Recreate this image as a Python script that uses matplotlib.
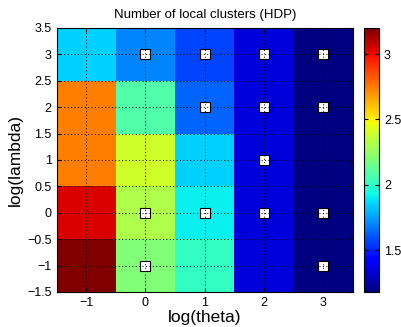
import matplotlib
matplotlib.use('Agg')
import numpy as np
import matplotlib.pyplot as plt

# log(theta) columns, log(lambda) rows
log_theta = [-1, 0, 1, 2, 3]
log_lambda = [-1, 0, 1, 2, 3]

# number of local clusters, one row per log(lambda) value
clusters_lam_m1 = [3.20, 2.20, 2.01, 1.34, 1.18]
clusters_lam_0 = [3.04, 2.31, 1.91, 1.34, 1.18]
clusters_lam_1 = [2.75, 2.39, 1.85, 1.34, 1.18]
clusters_lam_2 = [2.75, 2.08, 1.63, 1.34, 1.18]
clusters_lam_3 = [1.85, 1.70, 1.57, 1.34, 1.18]

# cells marked with a square
marked_theta = [0, 1, 2, 3, 1, 2, 3, 2, 0, 1, 2, 3, 0, 3]
marked_lambda = [3, 3, 3, 3, 2, 2, 2, 1, 0, 0, 0, 0, -1, -1]

cbar_ticks = [1.5, 2, 2.5, 3]
cbar_labels = ['1.5', '2', '2.5', '3']

plt.rcParams['font.family'] = ['Liberation Sans', 'DejaVu Sans']

Z = np.array([clusters_lam_m1, clusters_lam_0, clusters_lam_1,
              clusters_lam_2, clusters_lam_3])
xe = np.concatenate([np.array(log_theta) - 0.5, [log_theta[-1] + 0.5]])
ye = np.concatenate([np.array(log_lambda) - 0.5, [log_lambda[-1] + 0.5]])

fig = plt.figure(figsize=(4.01, 3.27), dpi=100)
ax = fig.add_axes([56.5 / 401, 35 / 327, 296.5 / 401, 264 / 327])
cax = fig.add_axes([364 / 401, 35 / 327, 15 / 401, 264 / 327])

mesh = ax.pcolormesh(xe, ye, Z, cmap='jet', shading='flat')
ax.plot(marked_theta, marked_lambda, 's', ms=6.5, mfc='white', mec='black',
        mew=0.8, zorder=2)

ax.set_xlim(-1.5, 3.5)
ax.set_ylim(-1.5, 3.5)
ax.set_xticks(log_theta)
ax.set_yticks(np.arange(-1.5, 3.51, 0.5))
ax.set_yticklabels(['\u22121.5', '\u22121', '\u22120.5', '0', '0.5', '1',
                    '1.5', '2', '2.5', '3', '3.5'])
ax.set_xticklabels(['\u22121', '0', '1', '2', '3'])
ax.tick_params(direction='in', labelsize=9, length=3, top=True, right=True)
ax.set_axisbelow(False)
ax.grid(True, color='black', linestyle=(0, (1, 2.5)), linewidth=0.7)
ax.set_xlabel('log(theta)', fontsize=12.5, labelpad=1)
ax.set_ylabel('log(lambda)', fontsize=12.5, labelpad=3)
ax.set_title('Number of local clusters (HDP)', fontsize=9.5, pad=7)

cb = fig.colorbar(mesh, cax=cax)
cb.set_ticks(cbar_ticks)
cb.set_ticklabels(cbar_labels)
cb.ax.tick_params(direction='in', labelsize=9, length=3, left=True, right=True)
cb.outline.set_linewidth(0.8)

fig.savefig('out.png', dpi=100)
